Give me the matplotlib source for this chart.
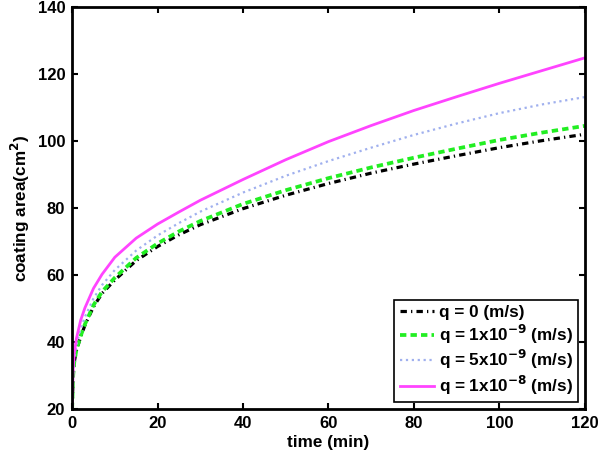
import matplotlib
matplotlib.use("Agg")
import matplotlib.pyplot as plt

# values
time_min = [0, 0.25, 0.5, 1, 2, 3, 5, 7, 10, 15, 20, 25, 30, 40, 50, 60, 70, 80, 90, 100, 110, 120]
area_q0 = [20, 30, 34, 37.5, 41.5, 45, 50.5, 54.5, 58.5, 64.3, 68.5, 72, 75, 79.8, 83.8, 87.3, 90.4, 93.1, 95.6, 98, 100.1, 102]
area_q1e9 = [20, 30, 34, 37.6, 41.8, 45.3, 51, 55, 59.2, 65.1, 69.4, 73, 76.1, 81.2, 85.3, 88.9, 92.1, 95, 97.7, 100.3, 102.5, 104.5]
area_q5e9 = [20, 31, 35, 39, 44, 47.5, 53, 57, 61.5, 67.3, 71.8, 75.5, 78.9, 84.6, 89.6, 94, 98, 101.8, 105.2, 108.3, 110.9, 113.1]
area_q1e8 = [20, 32, 36.5, 41, 46.5, 50.2, 56, 60.2, 65.3, 71, 75.2, 78.8, 82.3, 88.5, 94.4, 99.8, 104.6, 109.1, 113.2, 117.2, 121, 124.8]

labels = ['q = 0 (m/s)',
          r'q = 1x10$^{\mathbf{-9}}$ (m/s)',
          r'q = 5x10$^{\mathbf{-9}}$ (m/s)',
          r'q = 1x10$^{\mathbf{-8}}$ (m/s)']
x_ticks = [0, 20, 40, 60, 80, 100, 120]
y_ticks = [20, 40, 60, 80, 100, 120, 140]

plt.rcParams['font.family'] = ['Liberation Sans', 'DejaVu Sans']
plt.rcParams['font.weight'] = 'bold'
plt.rcParams['mathtext.default'] = 'bf'

fig = plt.figure(figsize=(6.01, 4.63), dpi=100)
ax = fig.add_axes([0.12, 0.1166, 0.853, 0.8684])

ax.plot(time_min, area_q0, color='black', linestyle=(0, (2.0, 1.3, 0.4, 1.3)), lw=2.3, label=labels[0])
ax.plot(time_min, area_q1e9, color='#22ee22', linestyle=(0, (1.7, 1.1)), lw=2.7, label=labels[1])
ax.plot(time_min, area_q5e9, color='#a0b0ee', linestyle=':', lw=1.6, label=labels[2])
ax.plot(time_min, area_q1e8, color='#ff44ff', linestyle='-', lw=2.0, label=labels[3])

ax.set_xlim(0, 120)
ax.set_ylim(20, 140)
ax.set_xticks(x_ticks)
ax.set_yticks(y_ticks)
ax.tick_params(direction='in', top=True, right=True, length=4, width=1.5,
               labelsize=12, pad=5)
for s in ax.spines.values():
    s.set_linewidth(2.0)

ax.set_xlabel('time (min)', fontsize=12.3, fontweight='bold', labelpad=3)
ax.set_ylabel(r'coating area(cm$^{\mathbf{2}}$)', fontsize=12.3, fontweight='bold', labelpad=4)

leg = ax.legend(loc='lower right', fontsize=12.3, fancybox=False, framealpha=1,
                edgecolor='black', handlelength=2.0, handletextpad=0.3,
                borderpad=0.3, labelspacing=0.15, borderaxespad=0.4)
leg.get_frame().set_linewidth(1.2)

fig.savefig('out.png', dpi=100)
